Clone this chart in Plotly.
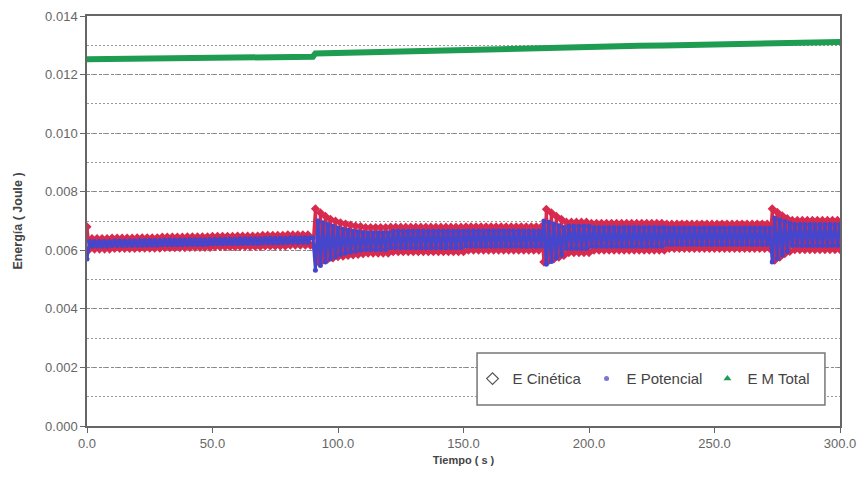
import plotly.graph_objects as go

# ---- time samples (s) for the kinetic / potential series ----
t_a = list(range(0, 91))
t_b = list(range(91, 182))
t_c = list(range(182, 273))
t_d = list(range(273, 301))

# ---- E Cinética (J) ----
e_cin_a = [
    0.00680, 0.00604, 0.00640, 0.00604, 0.00640, 0.00604, 0.00640, 0.00604, 0.00640, 0.00604,
    0.00642, 0.00606, 0.00642, 0.00606, 0.00642, 0.00606, 0.00642, 0.00606, 0.00642, 0.00606,
    0.00643, 0.00607, 0.00643, 0.00607, 0.00643, 0.00607, 0.00643, 0.00607, 0.00643, 0.00607,
    0.00645, 0.00609, 0.00645, 0.00609, 0.00645, 0.00609, 0.00645, 0.00609, 0.00645, 0.00609,
    0.00646, 0.00610, 0.00646, 0.00610, 0.00646, 0.00610, 0.00646, 0.00610, 0.00646, 0.00610,
    0.00648, 0.00612, 0.00648, 0.00612, 0.00648, 0.00612, 0.00648, 0.00612, 0.00648, 0.00612,
    0.00649, 0.00613, 0.00649, 0.00613, 0.00649, 0.00613, 0.00649, 0.00613, 0.00649, 0.00613,
    0.00651, 0.00615, 0.00651, 0.00615, 0.00651, 0.00615, 0.00651, 0.00615, 0.00651, 0.00615,
    0.00653, 0.00617, 0.00653, 0.00617, 0.00653, 0.00617, 0.00653, 0.00617, 0.00653, 0.00617,
    0.00617,
]
e_cin_b = [
    0.00742, 0.00562, 0.00728, 0.00566, 0.00716, 0.00570, 0.00706, 0.00574, 0.00700, 0.00578,
    0.00694, 0.00580, 0.00690, 0.00582, 0.00686, 0.00584, 0.00683, 0.00586, 0.00681, 0.00588,
    0.00678, 0.00590, 0.00678, 0.00590, 0.00678, 0.00590, 0.00678, 0.00590, 0.00678, 0.00590,
    0.00679, 0.00595, 0.00679, 0.00595, 0.00679, 0.00595, 0.00679, 0.00595, 0.00679, 0.00595,
    0.00679, 0.00595, 0.00679, 0.00595, 0.00679, 0.00595, 0.00679, 0.00595, 0.00679, 0.00595,
    0.00679, 0.00595, 0.00679, 0.00595, 0.00679, 0.00595, 0.00679, 0.00595, 0.00679, 0.00595,
    0.00680, 0.00600, 0.00680, 0.00600, 0.00680, 0.00600, 0.00680, 0.00600, 0.00680, 0.00600,
    0.00680, 0.00600, 0.00680, 0.00600, 0.00680, 0.00600, 0.00680, 0.00600, 0.00680, 0.00600,
    0.00680, 0.00600, 0.00680, 0.00600, 0.00680, 0.00600, 0.00680, 0.00600, 0.00680, 0.00600,
    0.00680,
]
e_cin_c = [
    0.00560, 0.00740, 0.00565, 0.00728, 0.00570, 0.00716, 0.00576, 0.00706, 0.00582,
    0.00696, 0.00592, 0.00696, 0.00592, 0.00696, 0.00592, 0.00696, 0.00592, 0.00696, 0.00592,
    0.00692, 0.00600, 0.00692, 0.00600, 0.00692, 0.00600, 0.00692, 0.00600, 0.00692, 0.00600,
    0.00692, 0.00600, 0.00692, 0.00600, 0.00692, 0.00600, 0.00692, 0.00600, 0.00692, 0.00600,
    0.00692, 0.00600, 0.00692, 0.00600, 0.00692, 0.00600, 0.00692, 0.00600, 0.00692, 0.00600,
    0.00690, 0.00606, 0.00690, 0.00606, 0.00690, 0.00606, 0.00690, 0.00606, 0.00690, 0.00606,
    0.00690, 0.00606, 0.00690, 0.00606, 0.00690, 0.00606, 0.00690, 0.00606, 0.00690, 0.00606,
    0.00690, 0.00606, 0.00690, 0.00606, 0.00690, 0.00606, 0.00690, 0.00606, 0.00690, 0.00606,
    0.00690, 0.00606, 0.00690, 0.00606, 0.00690, 0.00606, 0.00690, 0.00606, 0.00690, 0.00606,
    0.00690, 0.00606,
]
e_cin_d = [
    0.00742, 0.00566, 0.00730, 0.00576, 0.00718, 0.00588, 0.00708, 0.00596,
    0.00702, 0.00602, 0.00702, 0.00602, 0.00702, 0.00602, 0.00702, 0.00602, 0.00702, 0.00602,
    0.00702, 0.00602, 0.00702, 0.00602, 0.00702, 0.00602, 0.00702, 0.00602, 0.00702, 0.00602,
]

# ---- E Potencial (J) ----
e_pot_a = [
    0.00570, 0.00630, 0.00614, 0.00630, 0.00614, 0.00630, 0.00614, 0.00630, 0.00614, 0.00630,
    0.00616, 0.00632, 0.00616, 0.00632, 0.00616, 0.00632, 0.00616, 0.00632, 0.00616, 0.00632,
    0.00617, 0.00633, 0.00617, 0.00633, 0.00617, 0.00633, 0.00617, 0.00633, 0.00617, 0.00633,
    0.00619, 0.00635, 0.00619, 0.00635, 0.00619, 0.00635, 0.00619, 0.00635, 0.00619, 0.00635,
    0.00620, 0.00636, 0.00620, 0.00636, 0.00620, 0.00636, 0.00620, 0.00636, 0.00620, 0.00636,
    0.00622, 0.00638, 0.00622, 0.00638, 0.00622, 0.00638, 0.00622, 0.00638, 0.00622, 0.00638,
    0.00623, 0.00639, 0.00623, 0.00639, 0.00623, 0.00639, 0.00623, 0.00639, 0.00623, 0.00639,
    0.00625, 0.00641, 0.00625, 0.00641, 0.00625, 0.00641, 0.00625, 0.00641, 0.00625, 0.00641,
    0.00627, 0.00643, 0.00627, 0.00643, 0.00627, 0.00643, 0.00627, 0.00643, 0.00627, 0.00643,
    0.00643,
]
e_pot_b = [
    0.00532, 0.00700, 0.00548, 0.00694, 0.00560, 0.00688, 0.00570, 0.00682, 0.00578, 0.00676,
    0.00586, 0.00672, 0.00590, 0.00668, 0.00594, 0.00665, 0.00597, 0.00663, 0.00600, 0.00661,
    0.00603, 0.00660, 0.00603, 0.00660, 0.00603, 0.00660, 0.00603, 0.00660, 0.00603, 0.00660,
    0.00609, 0.00665, 0.00609, 0.00665, 0.00609, 0.00665, 0.00609, 0.00665, 0.00609, 0.00665,
    0.00609, 0.00665, 0.00609, 0.00665, 0.00609, 0.00665, 0.00609, 0.00665, 0.00609, 0.00665,
    0.00609, 0.00665, 0.00609, 0.00665, 0.00609, 0.00665, 0.00609, 0.00665, 0.00609, 0.00665,
    0.00614, 0.00666, 0.00614, 0.00666, 0.00614, 0.00666, 0.00614, 0.00666, 0.00614, 0.00666,
    0.00614, 0.00666, 0.00614, 0.00666, 0.00614, 0.00666, 0.00614, 0.00666, 0.00614, 0.00666,
    0.00614, 0.00666, 0.00614, 0.00666, 0.00614, 0.00666, 0.00614, 0.00666, 0.00614, 0.00666,
    0.00614,
]
e_pot_c = [
    0.00700, 0.00552, 0.00696, 0.00562, 0.00690, 0.00574, 0.00684, 0.00584, 0.00678,
    0.00606, 0.00682, 0.00606, 0.00682, 0.00606, 0.00682, 0.00606, 0.00682, 0.00606, 0.00682,
    0.00614, 0.00678, 0.00614, 0.00678, 0.00614, 0.00678, 0.00614, 0.00678, 0.00614, 0.00678,
    0.00614, 0.00678, 0.00614, 0.00678, 0.00614, 0.00678, 0.00614, 0.00678, 0.00614, 0.00678,
    0.00614, 0.00678, 0.00614, 0.00678, 0.00614, 0.00678, 0.00614, 0.00678, 0.00614, 0.00678,
    0.00620, 0.00676, 0.00620, 0.00676, 0.00620, 0.00676, 0.00620, 0.00676, 0.00620, 0.00676,
    0.00620, 0.00676, 0.00620, 0.00676, 0.00620, 0.00676, 0.00620, 0.00676, 0.00620, 0.00676,
    0.00620, 0.00676, 0.00620, 0.00676, 0.00620, 0.00676, 0.00620, 0.00676, 0.00620, 0.00676,
    0.00620, 0.00676, 0.00620, 0.00676, 0.00620, 0.00676, 0.00620, 0.00676, 0.00620, 0.00676,
    0.00620, 0.00676,
]
e_pot_d = [
    0.00560, 0.00710, 0.00572, 0.00704, 0.00584, 0.00698, 0.00596, 0.00692,
    0.00616, 0.00688, 0.00616, 0.00688, 0.00616, 0.00688, 0.00616, 0.00688, 0.00616, 0.00688,
    0.00616, 0.00688, 0.00616, 0.00688, 0.00616, 0.00688, 0.00616, 0.00688, 0.00616, 0.00688,
]

# ---- E M Total (J) ----
t_total = [0, 10, 20, 30, 40, 50, 60, 70, 80, 90, 91, 100, 110, 120, 130, 140, 150, 160,
           170, 180, 182, 190, 200, 210, 220, 230, 240, 250, 260, 270, 273, 280, 290, 300]
e_total = [0.01252, 0.01253, 0.01254, 0.01255, 0.01256, 0.01257, 0.01258, 0.01259, 0.01260,
           0.01261, 0.01272, 0.01274, 0.01276, 0.01278, 0.01280, 0.01282, 0.01284, 0.01286,
           0.01288, 0.01290, 0.01294, 0.01295, 0.01296, 0.01297, 0.01298, 0.01299, 0.01300,
           0.01301, 0.01302, 0.01303, 0.01307, 0.01308, 0.01310, 0.01311]

series_names = ["E Cinética", "E Potencial", "E M Total"]
y_ticks = [0.000, 0.002, 0.004, 0.006, 0.008, 0.010, 0.012, 0.014]
x_ticks = [0, 50, 100, 150, 200, 250, 300]

t_all = t_a + t_b + t_c + t_d
e_cin = e_cin_a + e_cin_b + e_cin_c + e_cin_d
e_pot = e_pot_a + e_pot_b + e_pot_c + e_pot_d

RED = "#d82a4e"
BLUE = "#4646cc"
GREEN = "#1e9c52"
FONT = "Arial, Liberation Sans, sans-serif"

fig = go.Figure()
fig.add_trace(go.Scatter(
    x=t_all, y=e_cin, mode="lines+markers", showlegend=False,
    line=dict(color=RED, width=3),
    marker=dict(symbol="diamond", size=7, color=RED)))
fig.add_trace(go.Scatter(
    x=t_all, y=e_pot, mode="lines+markers", showlegend=False,
    line=dict(color=BLUE, width=3),
    marker=dict(symbol="circle", size=5, color=BLUE)))
fig.add_trace(go.Scatter(
    x=t_total, y=e_total, mode="lines", showlegend=False,
    line=dict(color=GREEN, width=6)))

# legend entries
fig.add_trace(go.Scatter(x=[None], y=[None], mode="markers", name=series_names[0],
                         marker=dict(symbol="diamond-open", size=9, color="#555",
                                     line=dict(width=1.2))))
fig.add_trace(go.Scatter(x=[None], y=[None], mode="markers", name=series_names[1],
                         marker=dict(symbol="circle", size=5, color="#7878d0")))
fig.add_trace(go.Scatter(x=[None], y=[None], mode="markers", name=series_names[2],
                         marker=dict(symbol="triangle-up", size=7, color=GREEN)))

fig.update_layout(
    width=860, height=480,
    margin=dict(l=87, r=20, t=16, b=54),
    paper_bgcolor="white", plot_bgcolor="white",
    font=dict(family=FONT, color="#555"),
    legend=dict(
        orientation="h", x=0.512, y=0.115, xanchor="left", yanchor="middle",
        bgcolor="rgba(0,0,0,0)", borderwidth=0,
        font=dict(size=15, color="#444", family=FONT),
    ),
    shapes=[dict(type="rect", xref="paper", yref="paper",
                 x0=0.518, x1=0.980, y0=0.051, y1=0.178,
                 line=dict(color="#777", width=1.5), fillcolor="white", layer="above")],
)
fig.update_xaxes(
    range=[0, 300], tickvals=x_ticks, tickformat=".1f", automargin=False,
    showline=True, linecolor="#666", linewidth=1.5, mirror=True,
    ticks="outside", ticklen=5, tickcolor="#666",
    showgrid=False, zeroline=False,
    tickfont=dict(size=13, color="#666"),
    title=dict(text="<b>Tiempo ( s )</b>", font=dict(size=11, color="#444"), standoff=6),
)
fig.update_yaxes(
    range=[0, 0.014], tickvals=y_ticks, tickformat=".3f", automargin=False,
    showline=True, linecolor="#666", linewidth=1.5, mirror=True,
    ticks="outside", ticklen=5, tickcolor="#666",
    showgrid=True, gridcolor="#888", gridwidth=1, griddash="3px,3px",
    zeroline=False,
    minor=dict(dtick=0.001, showgrid=True, gridcolor="#999", gridwidth=1, griddash="2px,2px"),
    tickfont=dict(size=13, color="#666"),
    title=dict(text="<b>Energía ( Joule )</b>", font=dict(size=12.5, color="#444"), standoff=20),
)

fig.write_html("out.html")
